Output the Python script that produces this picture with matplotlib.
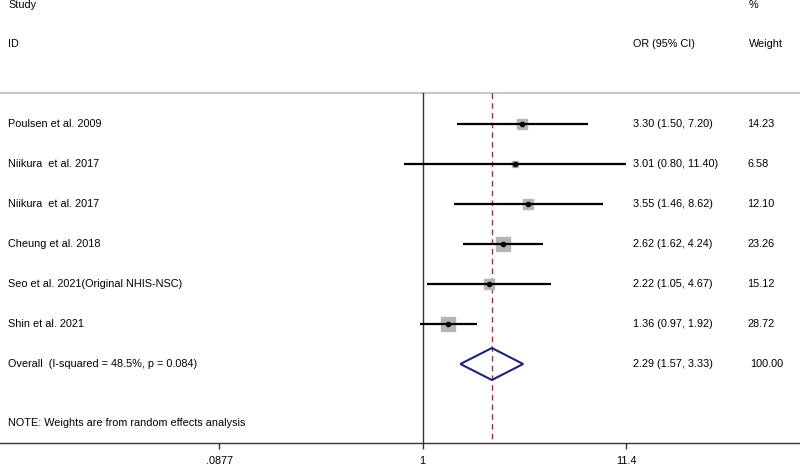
import numpy as np
import matplotlib
matplotlib.use("Agg")
import matplotlib.pyplot as plt
from matplotlib.patches import Polygon
import matplotlib.transforms as mtransforms

plt.rcParams['font.family'] = ['Liberation Sans', 'DejaVu Sans']

studies = ["Poulsen et al. 2009", "Niikura  et al. 2017", "Niikura  et al. 2017",
           "Cheung et al. 2018", "Seo et al. 2021(Original NHIS-NSC)", "Shin et al. 2021"]
or_est = [3.30, 3.01, 3.55, 2.62, 2.22, 1.36]
ci_low = [1.50, 0.80, 1.46, 1.62, 1.05, 0.97]
ci_high = [7.20, 11.40, 8.62, 4.24, 4.67, 1.92]
weights = [14.23, 6.58, 12.10, 23.26, 15.12, 28.72]

overall_label = "Overall  (I-squared = 48.5%, p = 0.084)"
overall_est = 2.29
overall_low = 1.57
overall_high = 3.33
overall_weight = 100.00

tick_vals = [0.0877, 1, 11.4]
tick_labels = [".0877", "1", "11.4"]
note = "NOTE: Weights are from random effects analysis"

W, H = 800, 466
fig = plt.figure(figsize=(W / 100, H / 100), dpi=100)
ax_bottom_px = 443
ax = fig.add_axes([0, (H - ax_bottom_px) / H, 1, ax_bottom_px / H])

# x: log scale, pixel = 422.7 + 83.5*ln(x)
px1, ppl = 422.7, 83.5
ax.set_xscale('log')
ax.set_xlim(np.exp(-px1 / ppl), np.exp((W - px1) / ppl))
# y: row index, pixel = 124 + 40*row
ax.set_ylim((ax_bottom_px - 124) / 40, -124 / 40)

for s in ['top', 'left', 'right']:
    ax.spines[s].set_visible(False)
ax.spines['bottom'].set_color('#333333')
ax.spines['bottom'].set_linewidth(1.0)
ax.set_yticks([])
ax.set_xticks(tick_vals)
ax.set_xticklabels(tick_labels)
ax.minorticks_off()
ax.tick_params(axis='x', length=4, width=1, color='#333333', labelsize=7.8, pad=5)
ax.patch.set_alpha(0)

fs = 7.8
trans = mtransforms.blended_transform_factory(ax.transAxes, ax.transData)

def row_of(px):
    return (px - 124) / 40

# headers
ax.text(8 / W, row_of(5), "Study", transform=trans, fontsize=fs, va='center', ha='left')
ax.text(8 / W, row_of(44), "ID", transform=trans, fontsize=fs, va='center', ha='left')
ax.text(633 / W, row_of(44), "OR (95% CI)", transform=trans, fontsize=fs, va='center', ha='left')
ax.text(749 / W, row_of(5), "%", transform=trans, fontsize=fs, va='center', ha='left')
ax.text(749 / W, row_of(44), "Weight", transform=trans, fontsize=fs, va='center', ha='left')

# separator line
ax.plot([0, 1], [row_of(93)] * 2, transform=trans, color='#c8c8c8', lw=1.5, clip_on=False)

# null line and overall dashed line
ax.plot([1, 1], [row_of(93), row_of(443)], color='#333333', lw=1.0)
ax.plot([overall_est] * 2, [row_of(93), row_of(443)], color='#b8283c', lw=1.0,
        ls=(0, (4, 3)))

max_side = 14.0  # px for max weight
for i, (lab, e, lo, hi, w) in enumerate(zip(studies, or_est, ci_low, ci_high, weights)):
    ax.plot([lo, hi], [i, i], color='black', lw=1.6, solid_capstyle='butt', zorder=3)
    side = max_side * np.sqrt(w / max(weights))
    ax.plot([e], [i], marker='s', ms=side * 0.75, color='#b4b4b4', mec='#b4b4b4', zorder=2)
    ax.plot([e], [i], marker='o', ms=3.0, color='black', zorder=4)
    ax.text(8 / W, i, lab, transform=trans, fontsize=fs, va='center', ha='left')
    ax.text(633 / W, i, f"{e:.2f} ({lo:.2f}, {hi:.2f})", transform=trans, fontsize=fs,
            va='center', ha='left')
    ax.text(747 / W, i, f"{w:.2f}", transform=trans, fontsize=fs, va='center', ha='left')

oi = len(studies)
half = 16 / 40
diamond = Polygon([[overall_low, oi], [overall_est, oi - half], [overall_high, oi],
                   [overall_est, oi + half]], closed=True, fill=False,
                  edgecolor='#1f2378', lw=1.5, zorder=4)
ax.add_patch(diamond)
ax.text(8 / W, oi, overall_label, transform=trans, fontsize=fs, va='center', ha='left')
ax.text(633 / W, oi, f"{overall_est:.2f} ({overall_low:.2f}, {overall_high:.2f})",
        transform=trans, fontsize=fs, va='center', ha='left')
ax.text(750 / W, oi, f"{overall_weight:.2f}", transform=trans, fontsize=fs, va='center', ha='left')

ax.text(8 / W, row_of(423), note, transform=trans, fontsize=fs, va='center', ha='left')

fig.savefig("out.png", dpi=100)
